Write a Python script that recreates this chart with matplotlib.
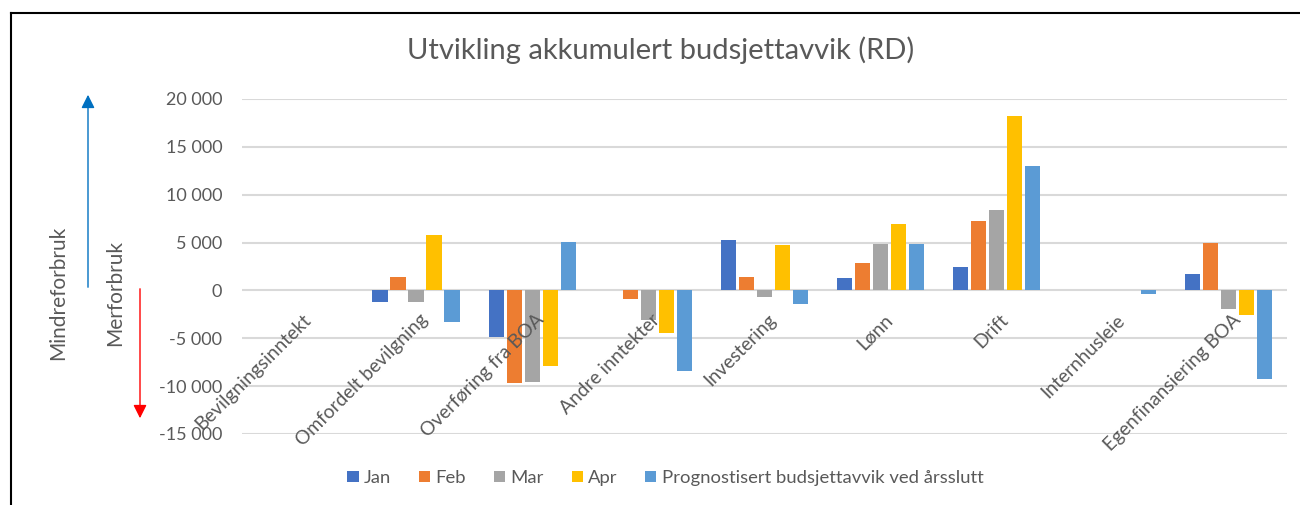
import numpy as np
import matplotlib
matplotlib.use("Agg")
import matplotlib.pyplot as plt
from matplotlib.ticker import FuncFormatter
from matplotlib.lines import Line2D

plt.rcParams['font.family'] = ['Lato', 'DejaVu Sans']

categories = ['Bevilgningsinntekt', 'Omfordelt bevilgning', 'Overføring fra BOA',
              'Andre inntekter', 'Investering', 'Lønn', 'Drift', 'Internhusleie',
              'Egenfinansiering BOA']
series_names = ['Jan', 'Feb', 'Mar', 'Apr', 'Prognostisert budsjettavvik ved årsslutt']
jan = [0, -1200, -4900, 0, 5300, 1300, 2400, 0, 1700]
feb = [0, 1450, -9700, -850, 1450, 2850, 7250, 0, 4950]
mar = [0, -1200, -9600, -3050, -650, 4900, 8450, 0, -1900]
apr = [0, 5750, -7850, -4450, 4700, 6900, 18200, 0, -2600]
prognose = [0, -3300, 5050, -8400, -1400, 4900, 12950, -350, -9300]
yticks = [-15000, -10000, -5000, 0, 5000, 10000, 15000, 20000]

colors = ['#4472C4', '#ED7D31', '#A5A5A5', '#FFC000', '#5B9BD5']
grey = '#595959'

fig = plt.figure(figsize=(13, 5.05), dpi=100)
ax = fig.add_axes([0.186, 0.1406, 0.804, 0.6634])

x = np.arange(len(categories))
pitch = 0.155
for i, (vals, name) in enumerate(zip([jan, feb, mar, apr, prognose], series_names)):
    ax.bar(x + (i - 2) * pitch, vals, width=0.13, color=colors[i], label=name, zorder=3)

ax.set_xlim(-0.5, len(categories) - 0.5)
ax.set_ylim(-15000, 20000)
ax.set_yticks(yticks)
ax.yaxis.set_major_formatter(FuncFormatter(lambda v, p: f"{v:,.0f}".replace(",", " ")))
ax.tick_params(axis='y', length=0, pad=14, labelsize=13, labelcolor=grey)
ax.set_xticks([])
ax.grid(axis='y', color='#D9D9D9', linewidth=1.5, zorder=0)
for s in ax.spines.values():
    s.set_visible(False)

# rotated category labels hanging below the zero line
for i, c in enumerate(categories):
    ax.annotate(c, (x[i], 0), xytext=(2, -15), textcoords='offset points',
                rotation=45, ha='right', va='top', rotation_mode='anchor',
                fontsize=13.8, color=grey)

fig.text(0.508, 1 - 50 / 505, 'Utvikling akkumulert budsjettavvik (RD)', ha='center',
         va='center', fontsize=21, color=grey)

# side annotations
fig.text(58 / 1300, 1 - 293 / 505, 'Mindreforbruk', rotation=90, ha='center', va='center',
         fontsize=15, color=grey)
fig.text(115 / 1300, 1 - 293 / 505, 'Merforbruk', rotation=90, ha='center', va='center',
         fontsize=15, color=grey)
ax.annotate('', xy=(88, 505 - 92), xytext=(88, 505 - 290), xycoords='figure pixels',
            textcoords='figure pixels',
            arrowprops=dict(arrowstyle='-|>', color='#0070C0', lw=1, mutation_scale=20))
ax.annotate('', xy=(140, 505 - 421), xytext=(140, 505 - 286), xycoords='figure pixels',
            textcoords='figure pixels',
            arrowprops=dict(arrowstyle='-|>', color='#FF0000', lw=1, mutation_scale=20))

# frame lines
fig.add_artist(Line2D([11 / 1300, 1], [1 - 13 / 505, 1 - 13 / 505], color='black', lw=1.5,
                      transform=fig.transFigure))
fig.add_artist(Line2D([11 / 1300, 11 / 1300], [0, 1 - 13 / 505], color='black', lw=1.5,
                      transform=fig.transFigure))

leg = fig.legend(loc='center', bbox_to_anchor=(0.512, 1 - 478 / 505), ncol=5, frameon=False,
                 fontsize=13.3, handlelength=0.6, handleheight=0.6, handletextpad=0.3,
                 columnspacing=1.5)
for t in leg.get_texts():
    t.set_color(grey)

fig.savefig('out.png', dpi=100)
